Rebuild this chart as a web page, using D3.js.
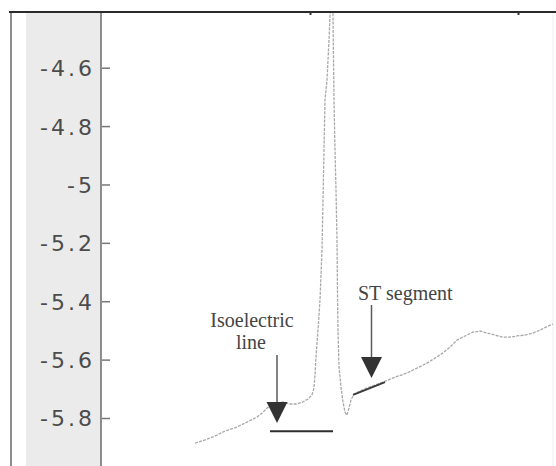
<!DOCTYPE html>
<html>
<head>
<meta charset="utf-8">
<script src="https://cdn.jsdelivr.net/npm/d3@7"></script>
<style>
  html, body { margin: 0; padding: 0; background: #fff; }
  svg { display: block; }
</style>
</head>
<body>
<svg id="chart" width="556" height="466"></svg>
<script>
// ---- data (sample index, voltage) ----
const sampleT = [93,103,111,123,135,145,155,161,165,170,175,181,188,195,201,206,210,212,213,214,216,218,220,221,222,223,225,227,228,229,230,231,231.5,232,233,234,235,235.5,236,237,239,241,243,245,247,249,252,258,265,273,281,293,305,315,325,333,341,348,355,363,371,378,385,393,401,408,415,423,431,438,446,451];
const voltage = [-5.886,-5.875,-5.865,-5.845,-5.831,-5.814,-5.797,-5.780,-5.766,-5.756,-5.749,-5.745,-5.752,-5.752,-5.745,-5.735,-5.721,-5.697,-5.653,-5.591,-5.499,-5.396,-5.225,-5.053,-4.882,-4.711,-4.642,-4.505,-4.420,-4.351,-4.351,-4.420,-4.574,-4.711,-4.882,-5.019,-5.190,-5.372,-5.499,-5.625,-5.694,-5.745,-5.780,-5.790,-5.766,-5.738,-5.718,-5.708,-5.697,-5.687,-5.677,-5.660,-5.646,-5.629,-5.612,-5.595,-5.577,-5.557,-5.533,-5.519,-5.506,-5.502,-5.509,-5.516,-5.523,-5.523,-5.519,-5.516,-5.509,-5.499,-5.485,-5.478];
const yTicks = [-4.6, -4.8, -5, -5.2, -5.4, -5.6, -5.8];
const yTickLabels = ["-4.6", "-4.8", "-5", "-5.2", "-5.4", "-5.6", "-5.8"];
const topTicks = [208, 416];

// annotations in data coordinates
const isoLine = [[168, -5.845], [231, -5.845]];
const stLine = [[251, -5.721], [283, -5.677]];
const arrows = [
  { t: 175, from: -5.584, to: -5.817 },
  { t: 269.5, from: -5.413, to: -5.663 }
];
const labels = [
  { text: "Isoelectric", t: 150, v: -5.488, anchor: "middle" },
  { text: "line", t: 149, v: -5.564, anchor: "middle" },
  { text: "ST segment", t: 256, v: -5.396, anchor: "start" }
];

// ---- drawing ----
const svg = d3.select("#chart");
const plotLeft = 102, plotTop = 12, plotRight = 556, plotBottom = 466;

const x = d3.scaleLinear().domain([0, 454]).range([plotLeft, plotRight]);
const y = d3.scaleLinear().domain([-4.6, -5.8]).range([67.7, 418]);

// grey axis band
svg.append("rect").attr("x", 26).attr("y", plotTop).attr("width", 75).attr("height", plotBottom - plotTop)
  .attr("fill", "#ebebeb");

const defs = svg.append("defs");
defs.append("clipPath").attr("id", "plotClip").append("rect")
  .attr("x", plotLeft).attr("y", plotTop).attr("width", plotRight - plotLeft).attr("height", plotBottom - plotTop);

// y axis
const yAxis = d3.axisRight(y).tickValues(yTicks).tickSize(8)
  .tickFormat((d, i) => yTickLabels[i]);
const ag = svg.append("g").attr("transform", `translate(${plotLeft},0)`).call(yAxis);
ag.select(".domain").remove();
ag.selectAll(".tick line").attr("stroke", "#777").attr("stroke-width", 1.5);
ag.selectAll(".tick text")
  .attr("x", -7).attr("dy", "0.36em")
  .attr("text-anchor", "end")
  .attr("fill", "#4c4c4c")
  .style("font-family", "DejaVu Sans, sans-serif")
  .style("font-size", "22px")
  .style("letter-spacing", "3px");

// axis line and left border
svg.append("line").attr("x1", 101).attr("x2", 101).attr("y1", plotTop).attr("y2", plotBottom)
  .attr("stroke", "#6a6a6a").attr("stroke-width", 1.5);
svg.append("line").attr("x1", 11).attr("x2", 11).attr("y1", plotTop).attr("y2", plotBottom)
  .attr("stroke", "#666").attr("stroke-width", 1.5);
svg.append("line").attr("x1", 553).attr("x2", 553).attr("y1", plotTop).attr("y2", plotBottom)
  .attr("stroke", "#eeeeee").attr("stroke-width", 1);

// ECG trace
const pts = sampleT.map((t, i) => [t, voltage[i]]);
const line = d3.line().x(d => x(d[0])).y(d => y(d[1]));
svg.append("path").datum(pts).attr("clip-path", "url(#plotClip)")
  .attr("d", line).attr("fill", "none")
  .attr("stroke", "#a8a8a8").attr("stroke-width", 1.3)
  .attr("stroke-dasharray", "3,1.2");

// isoelectric line
svg.append("path").datum(isoLine).attr("d", line).attr("fill", "none")
  .attr("stroke", "#2e2e2e").attr("stroke-width", 2);
// ST segment overlay
svg.append("path").datum(stLine).attr("d", line).attr("fill", "none")
  .attr("stroke", "#3a3a3a").attr("stroke-width", 1.8);

// arrows
arrows.forEach(a => {
  const ax = x(a.t), yTip = y(a.to), yFrom = y(a.from);
  const h = 21, hw = 10.5;
  svg.append("line").attr("x1", ax).attr("x2", ax).attr("y1", yFrom).attr("y2", yTip - h)
    .attr("stroke", "#5a5a5a").attr("stroke-width", 1.5);
  svg.append("path")
    .attr("d", `M${ax - hw},${yTip - h}L${ax + hw},${yTip - h}L${ax},${yTip}Z`)
    .attr("fill", "#333");
});

// labels
labels.forEach(l => {
  svg.append("text").attr("x", x(l.t)).attr("y", y(l.v))
    .attr("text-anchor", l.anchor)
    .attr("fill", "#444")
    .style("font-family", "Liberation Serif, Times New Roman, serif")
    .style("font-size", "20px")
    .text(l.text);
});

// top border line with small ticks
svg.append("line").attr("x1", 9).attr("x2", 556).attr("y1", 12).attr("y2", 12)
  .attr("stroke", "#2a2a2a").attr("stroke-width", 2);
const topAxis = d3.axisBottom(x).tickValues(topTicks).tickSize(3).tickFormat("");
const tg = svg.append("g").attr("transform", "translate(0,12)").call(topAxis);
tg.select(".domain").remove();
tg.selectAll(".tick line").attr("stroke", "#333").attr("stroke-width", 2);
</script>
</body>
</html>
